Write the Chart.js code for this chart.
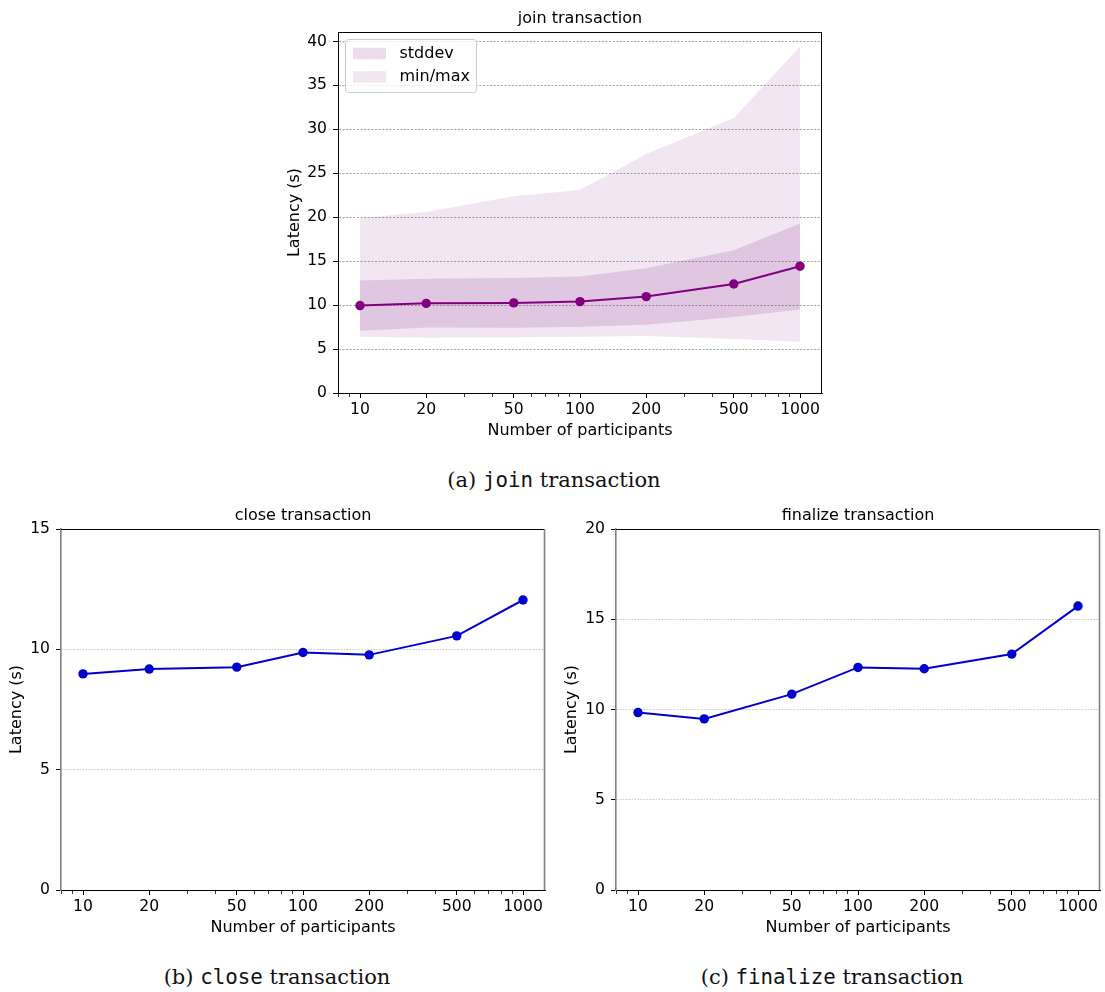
<!DOCTYPE html>
<html>
<head>
<meta charset="utf-8">
<script src="https://cdn.jsdelivr.net/npm/chart.js@4.4.1/dist/chart.umd.min.js"></script>
<style>
  body { margin: 0; background: #fff; }
  .page { position: relative; width: 1105px; height: 992px; overflow: hidden; }
  canvas { position: absolute; }
  #join { left: 280px; top: 0; }
  #close { left: 0; top: 500px; }
  #finalize { left: 555px; top: 500px; }
  .caption {
    position: absolute;
    transform: translateX(-50%);
    white-space: nowrap;
    font-family: "DejaVu Serif", serif;
    font-size: 21px;
    line-height: 24px;
    color: #111;
  }
  .caption code { font-family: "DejaVu Sans Mono", monospace; font-size: 20.8px; }
</style>
</head>
<body>
<div class="page">
  <canvas id="join" width="560" height="450"></canvas>
  <canvas id="close" width="560" height="450"></canvas>
  <canvas id="finalize" width="550" height="450"></canvas>
  <div class="caption" style="left:554px;top:468px">(a) <code>join</code> transaction</div>
  <div class="caption" style="left:277px;top:965px">(b) <code>close</code> transaction</div>
  <div class="caption" style="left:832px;top:965px">(c) <code>finalize</code> transaction</div>
</div>
<script>
// values
const participants = [10, 20, 50, 100, 200, 500, 1000];
const joinMean = [9.95, 10.2, 10.25, 10.4, 10.97, 12.4, 14.43];
const joinStdUpper = [12.8, 13.0, 13.1, 13.26, 14.2, 16.25, 19.3];
const joinStdLower = [7.08, 7.46, 7.42, 7.54, 7.77, 8.64, 9.5];
const joinMax = [19.9, 20.6, 22.4, 23.1, 27.2, 31.3, 39.4];
const joinMin = [6.4, 6.29, 6.33, 6.4, 6.48, 6.14, 5.83];
const closeMean = [8.98, 9.18, 9.26, 9.87, 9.77, 10.56, 12.05];
const finalizeMean = [9.83, 9.48, 10.85, 12.33, 12.26, 13.07, 15.73];

const xMajorTicks = [10, 20, 50, 100, 200, 500, 1000];
const xMinorTicks = [8, 9, 30, 40, 60, 70, 80, 90, 300, 400, 600, 700, 800, 900];
const joinYTicks = [0, 5, 10, 15, 20, 25, 30, 35, 40];
const closeYTicks = [0, 5, 10, 15];
const finalizeYTicks = [0, 5, 10, 15, 20];

const purple = "#800080";
const blue = "#0000cd";

Chart.defaults.font.family = "'DejaVu Sans', sans-serif";
Chart.defaults.color = "#000";

function points(ys) {
  return participants.map((x, i) => ({ x: x, y: ys[i] }));
}

// matplotlib style autoscale: 5% margin over the data range
const joinTop = Math.max(...joinMax) + 0.05 * (Math.max(...joinMax) - Math.min(...joinMin));

// top and right spines
const frame = {
  id: "frame",
  afterDraw(chart, args, opts) {
    const { ctx, chartArea } = chart;
    const top = Math.round(chartArea.top) + 0.5;
    const right = Math.round(chartArea.right) - 0.5;
    ctx.save();
    ctx.lineWidth = 1;
    ctx.strokeStyle = "#000";
    ctx.beginPath();
    ctx.moveTo(chartArea.left, top);
    ctx.lineTo(chartArea.right, top);
    ctx.stroke();
    ctx.lineWidth = opts.sideWidth || 1;
    ctx.strokeStyle = opts.side || "#000";
    ctx.beginPath();
    ctx.moveTo(right, chartArea.top);
    ctx.lineTo(right, chartArea.bottom);
    ctx.stroke();
    ctx.restore();
  },
};

// boxed legend in the upper left corner, like matplotlib
const bandLegend = {
  id: "bandLegend",
  afterDraw(chart, args, opts) {
    if (!opts.items) return;
    const { ctx, chartArea } = chart;
    const x = Math.round(chartArea.left + 7) + 0.5;
    const y = Math.round(chartArea.top + 7) + 0.5;
    const w = 131;
    const h = 53;
    ctx.save();
    ctx.beginPath();
    ctx.roundRect(x, y, w, h, 3);
    ctx.fillStyle = "rgba(255,255,255,0.8)";
    ctx.fill();
    ctx.strokeStyle = "#cccccc";
    ctx.lineWidth = 1;
    ctx.stroke();
    ctx.font = "16px 'DejaVu Sans'";
    ctx.textBaseline = "middle";
    opts.items.forEach((index, i) => {
      const ds = chart.data.datasets[index];
      const cy = y + 14 + i * 23.4;
      ctx.fillStyle = ds.backgroundColor;
      ctx.fillRect(x + 7.5, cy - 5.7, 33, 11.4);
      ctx.fillStyle = "#000";
      ctx.fillText(ds.label, x + 54, cy);
    });
    ctx.restore();
  },
};

function xAxis(height, titlePad) {
  return {
    type: "logarithmic",
    min: Math.pow(10, 0.9),
    max: Math.pow(10, 3.1),
    afterBuildTicks: (scale) => {
      scale.ticks = xMinorTicks
        .concat(xMajorTicks)
        .sort((a, b) => a - b)
        .map((v) => ({ value: v }));
    },
    afterFit: (scale) => {
      scale.height = height;
      scale.paddingLeft = 0;
      scale.paddingRight = 0;
    },
    ticks: {
      autoSkip: false,
      maxRotation: 0,
      minRotation: 0,
      padding: 3,
      font: { size: 15.6 },
      callback: (v) => (xMajorTicks.includes(v) ? String(v) : ""),
    },
    grid: {
      drawOnChartArea: false,
      tickLength: 5,
      tickColor: "#000",
      tickWidth: (c) => (c.tick && xMajorTicks.includes(c.tick.value) ? 1 : 0.8),
      tickBorderDash: (c) => (c.tick && xMajorTicks.includes(c.tick.value) ? [] : [3, 10]),
    },
    border: { color: "#000", width: 1 },
    title: {
      display: true,
      text: "Number of participants",
      font: { size: 16 },
      padding: { top: 0, bottom: titlePad },
    },
  };
}

function yAxis(o) {
  return {
    min: 0,
    max: o.max,
    afterBuildTicks: (scale) => {
      scale.ticks = o.ticks.map((v) => ({ value: v }));
    },
    afterFit: (scale) => {
      scale.width = o.width;
    },
    ticks: { padding: 6, font: { size: 15.6 }, callback: (v) => String(v) },
    grid: {
      z: -1,
      color: o.gridColor,
      lineWidth: 0.8,
      tickLength: 5,
      tickColor: "#000",
      tickWidth: 1,
      tickBorderDash: [],
    },
    border: { color: o.spine, width: o.spineWidth, dash: o.dash },
    title: {
      display: true,
      text: "Latency (s)",
      font: { size: 16 },
      padding: { top: o.titlePad, bottom: 0 },
    },
  };
}

function titleOptions(text, padTop, padBottom) {
  return {
    display: true,
    text: text,
    fullSize: false,
    color: "#000",
    font: { size: 16, weight: "normal" },
    padding: { top: padTop, bottom: padBottom },
  };
}

function band(label, values, color, fill) {
  return {
    label: label,
    data: points(values),
    borderColor: "transparent",
    borderWidth: 0,
    pointRadius: 0,
    backgroundColor: color,
    fill: fill,
  };
}

new Chart(document.getElementById("join"), {
  type: "line",
  data: {
    datasets: [
      {
        label: "mean",
        data: points(joinMean),
        borderColor: purple,
        backgroundColor: purple,
        borderWidth: 2,
        pointRadius: 4.7,
        pointBorderWidth: 0,
        fill: false,
      },
      band("stddev", joinStdUpper, "rgba(120,10,120,0.14)", "+1"),
      band("stddev lower", joinStdLower, "transparent", false),
      band("min/max", joinMax, "rgba(120,10,120,0.1)", "+1"),
      band("min", joinMin, "transparent", false),
    ],
  },
  options: {
    responsive: false,
    animation: false,
    devicePixelRatio: 1,
    events: [],
    layout: { padding: { left: 0, right: 18, top: 0, bottom: 0 } },
    scales: {
      x: xAxis(57, 9.4),
      y: yAxis({
        max: joinTop,
        ticks: joinYTicks,
        width: 58,
        titlePad: 5.4,
        gridColor: "#8a8a8a",
        dash: [2, 1.6],
        spine: "#000",
        spineWidth: 1,
      }),
    },
    plugins: {
      legend: { display: false },
      tooltip: { enabled: false },
      title: titleOptions("join transaction", 9.6, 3.2),
      bandLegend: { items: [1, 3] },
      frame: { side: "#000", sideWidth: 1 },
    },
  },
  plugins: [frame, bandLegend],
});

function smallChart(id, text, values, yMax, yTicks, rightPad) {
  return new Chart(document.getElementById(id), {
    type: "line",
    data: {
      datasets: [
        {
          label: text,
          data: points(values),
          borderColor: blue,
          backgroundColor: blue,
          borderWidth: 2,
          pointRadius: 4.7,
          pointBorderWidth: 0,
          fill: false,
        },
      ],
    },
    options: {
      responsive: false,
      animation: false,
      devicePixelRatio: 1,
      events: [],
      layout: { padding: { left: 0, right: rightPad, top: 0, bottom: 0 } },
      scales: {
        x: xAxis(60, 12.4),
        y: yAxis({
          max: yMax,
          ticks: yTicks,
          width: 61,
          titlePad: 7.4,
          gridColor: "#b8b8b8",
          dash: [1.5, 1.5],
          spine: "#808080",
          spineWidth: 1.6,
        }),
      },
      plugins: {
        legend: { display: false },
        tooltip: { enabled: false },
        title: titleOptions(text, 6.4, 3.4),
        frame: { side: "#808080", sideWidth: 1.6 },
      },
    },
    plugins: [frame],
  });
}

smallChart("close", "close transaction", closeMean, 15, closeYTicks, 15);
smallChart("finalize", "finalize transaction", finalizeMean, 20, finalizeYTicks, 5);
</script>
</body>
</html>
